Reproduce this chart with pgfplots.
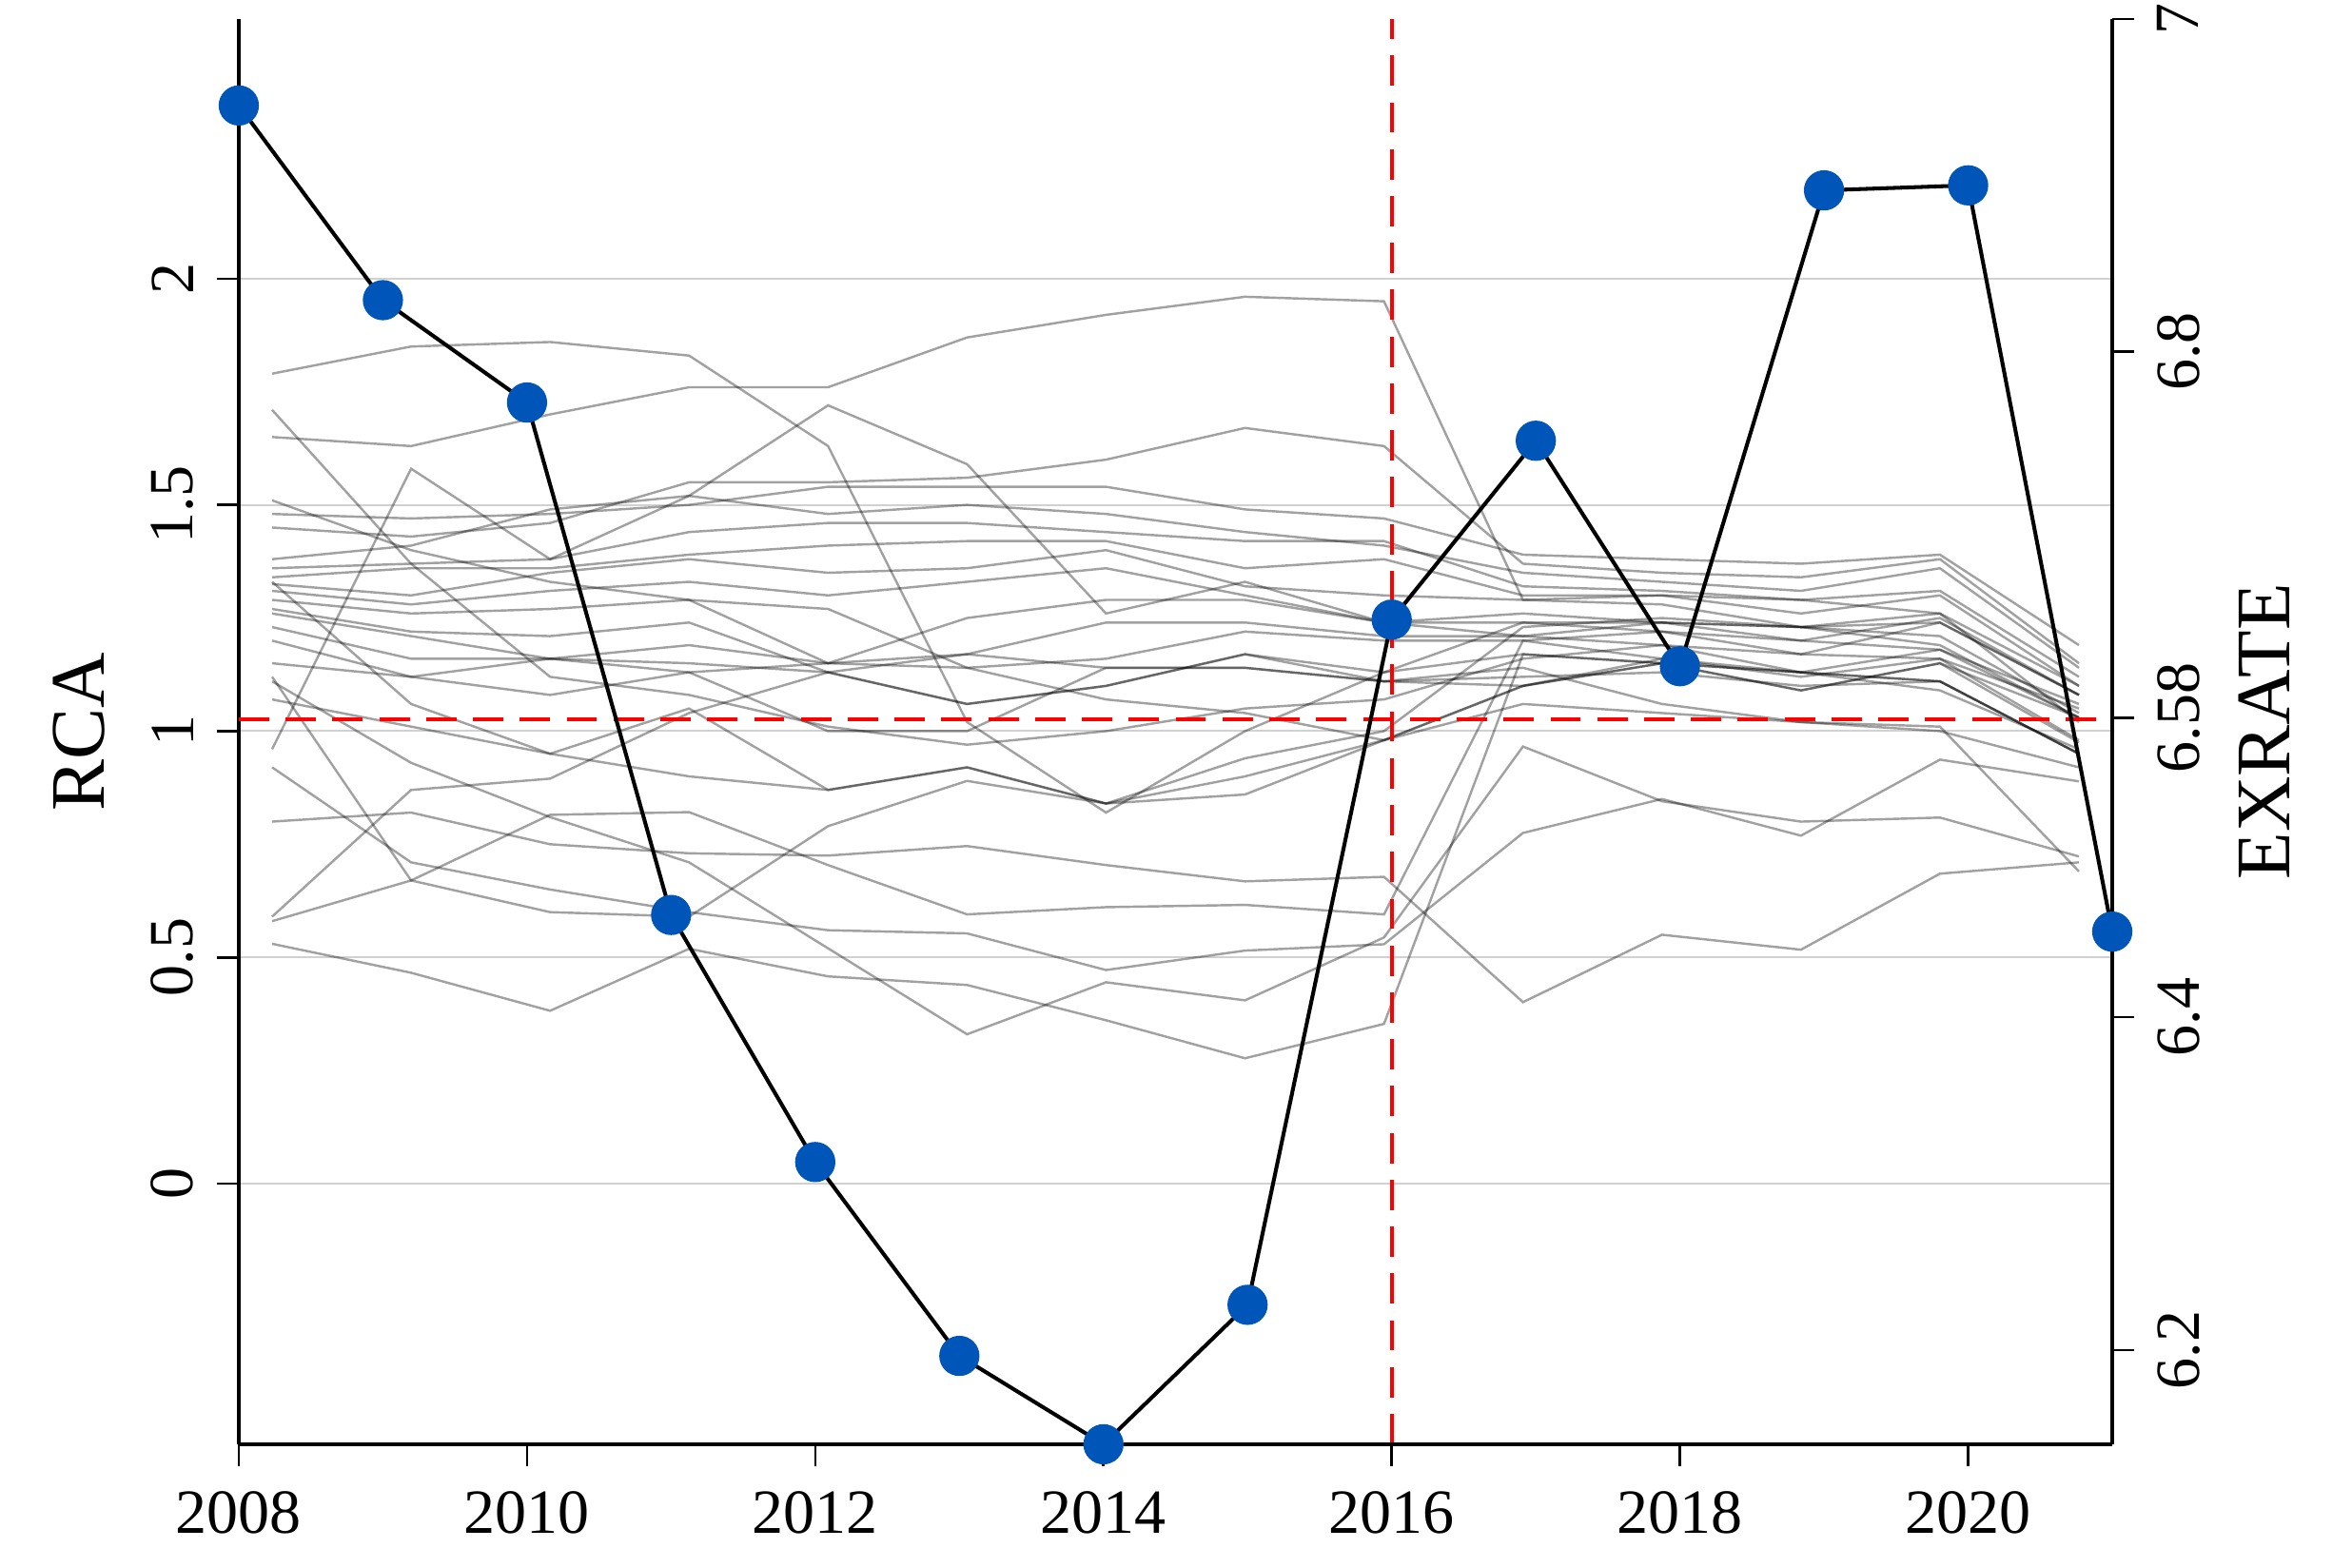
\documentclass[border=0pt]{standalone}
\usepackage{fontspec}
\setmainfont{Liberation Serif}
\usepackage{pgfplots}
\usepackage{pgfplotstable}
\pgfplotsset{compat=1.18}
\definecolor{dotblue}{RGB}{0,86,184}

% RCA of individual series (gray lines), one column per series
\pgfplotstableread{
yr   l1   l2   l3   l4   l5   l6   l7   l8   l9   l10  l11   l12  l13  l14  l15  l16  l17  l18  l19  l20   l21  l22  l23   l24   l25   l26   l27
2008 1.79 1.71 1.65 1.51 1.48 1.45 1.38 1.36 1.34 1.33 1.325 1.31 1.29 1.27 1.26 1.23 1.20 1.15 1.12 1.11  1.07 0.96 0.92  0.80  0.59  0.58  0.53
2009 1.85 1.37 1.63 1.40 1.47 1.43 1.41 1.37 1.36 1.06 1.30  1.28 1.26 1.22 1.21 1.16 1.12 1.12 0.67 0.93  1.01 1.58 0.71  0.82  0.87  0.67  0.466
2010 1.86 1.12 1.70 1.33 1.48 1.46 1.49 1.38 1.36 0.95 1.35  1.31 1.27 1.21 1.16 1.16 1.08 1.16 0.60 0.81  0.95 1.38 0.65  0.75  0.895 0.815 0.382
2011 1.83 1.08 1.76 1.29 1.50 1.55 1.52 1.44 1.39 0.90 1.38  1.33 1.29 1.24 1.19 1.15 1.13 1.13 0.59 0.71  1.05 1.52 0.60  0.73  1.04  0.821 0.519
2012 1.63 1.01 1.76 1.27 1.54 1.55 1.48 1.46 1.41 0.87 1.35  1.30 1.15 1.13 1.15 1.13 1.00 1.15 0.79 0.52  0.87 1.72 0.56  0.725 1.13  0.704 0.458
2013 1.02 0.97 1.87 1.14 1.54 1.56 1.50 1.46 1.42 0.92 1.36  1.33 1.25 1.17 1.14 1.06 1.00 1.17 0.89 0.33  0.92 1.59 0.553 0.746 1.06  0.595 0.439
2014 0.82 1.00 1.92 1.07 1.54 1.60 1.48 1.44 1.42 0.84 1.40  1.36 1.29 1.24 1.16 1.10 1.14 1.14 0.84 0.445 0.84 1.26 0.472 0.704 1.10  0.611 0.361
2015 1.00 1.05 1.96 1.04 1.49 1.67 1.44 1.42 1.36 0.86 1.32  1.30 1.29 1.24 1.22 1.17 1.14 1.14 0.90 0.405 0.94 1.33 0.515 0.668 1.17  0.616 0.277
2016 1.13 1.07 1.95 0.98 1.47 1.63 1.41 1.42 1.38 0.98 1.30  1.24 1.24 1.21 1.20 1.13 1.11 1.11 0.98 0.544 1.00 1.24 0.529 0.678 1.11  0.595 0.353
2017 1.24 1.16 1.29 1.10 1.39 1.37 1.35 1.32 1.30 1.06 1.29  1.26 1.24 1.21 1.20 1.17 1.14 1.10 1.10 0.966 1.23 1.21 0.775 0.401 1.12  1.20  1.17
2018 1.24 1.19 1.30 1.15 1.38 1.35 1.33 1.31 1.30 1.04 1.28  1.24 1.22 1.19 1.16 1.15 1.06 1.15 1.16 0.845 1.25 1.24 0.85  0.55  1.13  1.22  1.15
2019 1.23 1.17 1.29 1.13 1.37 1.34 1.31 1.29 1.26 1.02 1.23  1.20 1.17 1.13 1.12 1.09 1.02 1.09 1.13 0.80  1.23 1.23 0.769 0.517 1.10  1.20  1.13
2020 1.21 1.16 1.26 1.09 1.39 1.38 1.36 1.31 1.30 1.01 1.26  1.25 1.24 1.18 1.16 1.15 1.00 1.15 1.11 0.809 1.19 1.24 0.937 0.685 1.11  1.18  1.11
2021 1.04 0.98 1.02 0.96 1.19 1.15 1.14 1.12 1.10 0.69 1.10  1.08 1.08 1.06 1.05 1.03 0.92 0.975 0.95 0.723 1.03 1.08 0.889 0.710 0.95  1.03  0.95
}\graytable

% Exchange rate series
\pgfplotstableread{
yr   ex
2008 6.9480
2009 6.8310
2010 6.7695
2011 6.4615
2012 6.3130
2013 6.1965
2014 6.1434
2015 6.2272
2016 6.6390
2017 6.7465
2018 6.6110
2019 6.8970
2020 6.9000
2021 6.4515
}\extable

\begin{document}
\begin{tikzpicture}
\pgfplotsset{
  common/.style={
    at={(0,0)}, anchor=south west, scale only axis,
    width=11.948cm, height=9.090cm,
    /pgf/number format/assume math mode=true,
    /pgf/number format/1000 sep={},
    scaled ticks=false,
    tick label style={font=\fontsize{11.4}{13}\selectfont},
    axis line style={line width=0.6pt, black},
    major tick length=4pt, tick align=outside,
    tick style={line width=0.45pt, black},
  },
}
% Left axis: RCA, gray lines
\begin{axis}[common,
  xmin=2007.7603, xmax=2021.2397, ymin=-0.576, ymax=2.574,
  axis x line=none, axis y line*=left,
  ytick={0,0.5,1,1.5,2},
  ymajorgrids, major grid style={line width=0.35pt, black!18},
  yticklabel style={xshift=-4pt, rotate=90, anchor=south, inner sep=0pt},
  ylabel={RCA},
  every axis y label/.style={at={(axis description cs:-0.0711,0.5)}, rotate=90, anchor=south, inner sep=0pt, font=\fontsize{14}{16}\selectfont},
]
\pgfplotsinvokeforeach{1,...,27}{
  \addplot[black, opacity=0.37, line width=0.42pt, mark=none] table[x=yr, y=l#1] {\graytable};
}
\end{axis}
% Right axis: EXRATE
\begin{axis}[common,
  xmin=2008, xmax=2021, ymin=6.1434, ymax=7,
  axis x line*=bottom, axis y line*=right,
  xtick={2008,2010,2012,2014,2016,2018,2020},
  ytick={6.2,6.4,6.58,6.8,7},
  yticklabels={6.2,6.4,6.58,6.8,7},
  xticklabel style={yshift=-4.3pt, anchor=north, inner sep=0pt},
  yticklabel style={xshift=4pt, rotate=90, anchor=north, inner sep=0pt},
  ylabel={EXRATE},
  every axis y label/.style={at={(axis description cs:1.0670,0.5)}, rotate=90, anchor=north, inner sep=0pt, font=\fontsize{14}{16}\selectfont},
  clip=false, axis on top,
]
\draw[red, line width=0.7pt, dash pattern=on 5.5pt off 3pt] (axis cs:2008,6.579) -- (axis cs:2021,6.579);
\draw[red, line width=0.7pt, dash pattern=on 5.5pt off 3pt] (axis cs:2016,6.1434) -- (axis cs:2016,7);
\addplot[black, line width=0.7pt, mark=*, mark size=3.3pt, mark options={fill=dotblue, draw=dotblue}] table[x=yr, y=ex] {\extable};
\end{axis}
\pgfresetboundingbox
\useasboundingbox (-1.523cm,-0.789cm) rectangle (13.477cm,9.211cm);
\end{tikzpicture}
\end{document}
